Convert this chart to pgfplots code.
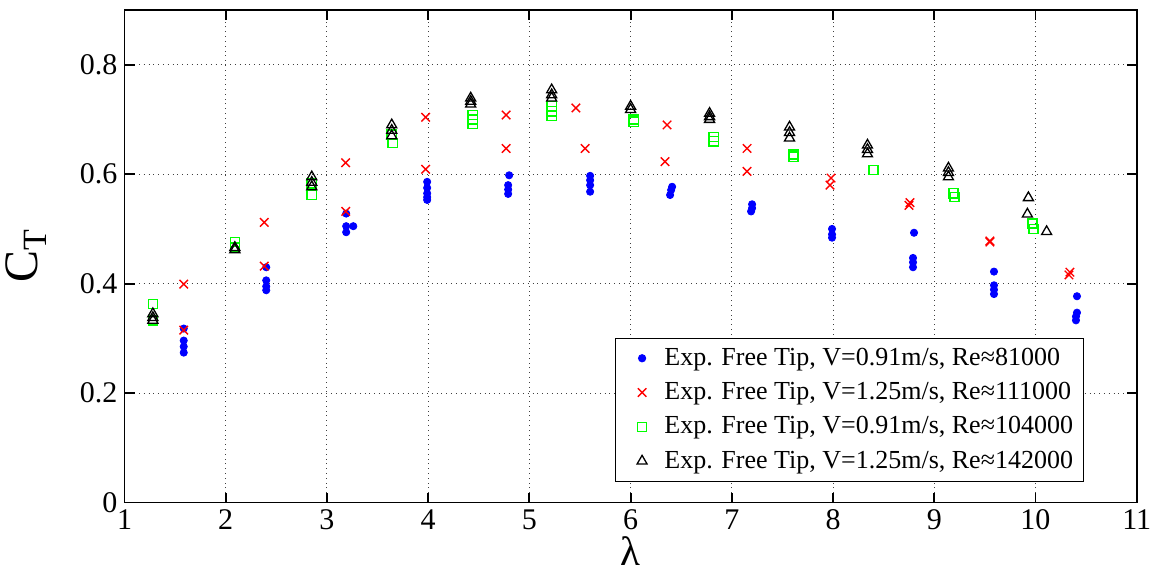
\documentclass[border=0pt]{standalone}
\usepackage{fontspec}
\setmainfont{Liberation Serif}
\usepackage{pgfplots}
\pgfplotsset{compat=1.18}
\begin{document}
\begin{tikzpicture}
\begin{axis}[name=ax, at={(0,0)}, anchor=south west,
  scale only axis, width=506pt, height=246.25pt,
  xmin=1, xmax=11, ymin=0, ymax=0.9,
  xtick={1,2,3,4,5,6,7,8,9,10,11},
  xticklabels={1,2,3,4,5,6,7,8,9,10,11},
  ytick={0,0.2,0.4,0.6,0.8},
  yticklabels={0,0.2,0.4,0.6,0.8},
  tick align=inside, tick pos=both,
  major tick length=5pt,
  grid=major,
  major grid style={dotted, black!75, line width=0.5pt},
  axis line style={line width=0.9pt},
  every tick/.style={black, line width=0.9pt},
  ticklabel style={font=\fontsize{15}{15}\selectfont},
  /pgf/number format/assume math mode=true,
  xlabel={λ},
  xlabel style={font=\fontsize{20.5}{20.5}\selectfont, yshift=3.5pt},
  ylabel={C\raisebox{-0.4ex}{\fontsize{17}{17}\selectfont T}},
  every axis y label/.style={at={(rel axis cs:0,0.5)}, xshift=-43.5pt, rotate=90, anchor=base,
    font=\fontsize{24}{24}\selectfont},
  legend style={at={(0.9475,0.0422)}, anchor=south east, draw=black, line width=0.5pt,
    font=\fontsize{13}{15}\selectfont, cells={anchor=west}, row sep=3pt,
    inner xsep=3pt, inner ysep=3pt},
  legend cell align=left,
  legend image code/.code={\path (-9.8pt,0pt) (8.8pt,0pt); \draw[#1] plot coordinates {(0pt,0pt)};},
]
\addplot[only marks, mark=*, mark size=1.8pt, color=blue, mark options={fill=blue}] coordinates {
(1.585,0.318) (1.585,0.296) (1.585,0.285) (1.585,0.274)
(2.40,0.430) (2.40,0.406) (2.40,0.395) (2.40,0.388)
(3.19,0.528) (3.19,0.505) (3.26,0.505) (3.19,0.494)
(3.99,0.586) (3.99,0.575) (3.99,0.565) (3.99,0.558) (3.99,0.553)
(4.80,0.598) (4.79,0.580) (4.79,0.572) (4.79,0.564)
(5.60,0.597) (5.60,0.589) (5.60,0.580) (5.60,0.568)
(6.41,0.577) (6.40,0.571) (6.39,0.562)
(7.20,0.545) (7.20,0.538) (7.19,0.532)
(7.99,0.500) (7.99,0.490) (7.99,0.484)
(8.80,0.493) (8.79,0.447) (8.79,0.439) (8.79,0.430)
(9.59,0.422) (9.59,0.397) (9.59,0.389) (9.59,0.381)
(10.41,0.377) (10.41,0.347) (10.40,0.340) (10.40,0.333)
};
\addlegendentry{Exp. Free Tip, V=0.91m/s, Re≈81000}
\addplot[only marks, mark=x, mark size=3pt, color=red, line width=0.7pt] coordinates {
(1.585,0.399) (1.585,0.315)
(2.38,0.512) (2.38,0.432)
(3.185,0.621) (3.185,0.532)
(3.975,0.704) (3.975,0.609)
(4.77,0.708) (4.77,0.647)
(5.46,0.721) (5.55,0.647)
(6.36,0.690) (6.34,0.623)
(7.15,0.647) (7.15,0.605)
(7.98,0.593) (7.97,0.580)
(8.75,0.543) (8.76,0.548)
(9.55,0.478) (9.55,0.476)
(10.34,0.421) (10.33,0.416)
};
\addlegendentry{Exp. Free Tip, V=1.25m/s, Re≈111000}
\addplot[only marks, mark=square, mark size=2.3pt, color=green, line width=0.7pt] coordinates {
(1.28,0.363) (1.28,0.333)
(2.09,0.476) (2.09,0.466)
(2.85,0.583) (2.85,0.562)
(3.64,0.672) (3.65,0.657)
(4.44,0.708) (4.44,0.700) (4.44,0.692)
(5.22,0.724) (5.22,0.715) (5.22,0.706)
(6.03,0.700) (6.03,0.696)
(6.82,0.668) (6.82,0.660)
(7.61,0.636) (7.61,0.632)
(8.40,0.608)
(9.19,0.565) (9.20,0.558)
(9.97,0.510) (9.98,0.500)
};
\addlegendentry{Exp. Free Tip, V=0.91m/s, Re≈104000}
\addplot[only marks, mark=triangle, mark size=2.9pt, color=black, line width=0.65pt] coordinates {
(1.28,0.345) (1.28,0.338) (1.28,0.333)
(2.09,0.466) (2.09,0.462)
(2.85,0.595) (2.85,0.585) (2.85,0.577)
(3.64,0.690) (3.64,0.680) (3.64,0.670)
(4.42,0.739) (4.42,0.733) (4.42,0.728)
(5.22,0.754) (5.22,0.745) (5.22,0.739)
(6.00,0.724) (6.00,0.718)
(6.78,0.711) (6.78,0.705) (6.78,0.700)
(7.57,0.686) (7.57,0.676) (7.57,0.666)
(8.34,0.653) (8.34,0.645) (8.34,0.637)
(9.14,0.611) (9.14,0.603) (9.14,0.595)
(9.93,0.557) (9.92,0.527) (10.11,0.495)
};
\addlegendentry{Exp. Free Tip, V=1.25m/s, Re≈142000}
\end{axis}
\pgfresetboundingbox
\path[use as bounding box] (-62.25pt,-37.25pt) rectangle (517.65pt,251.25pt);
\end{tikzpicture}
\end{document}
